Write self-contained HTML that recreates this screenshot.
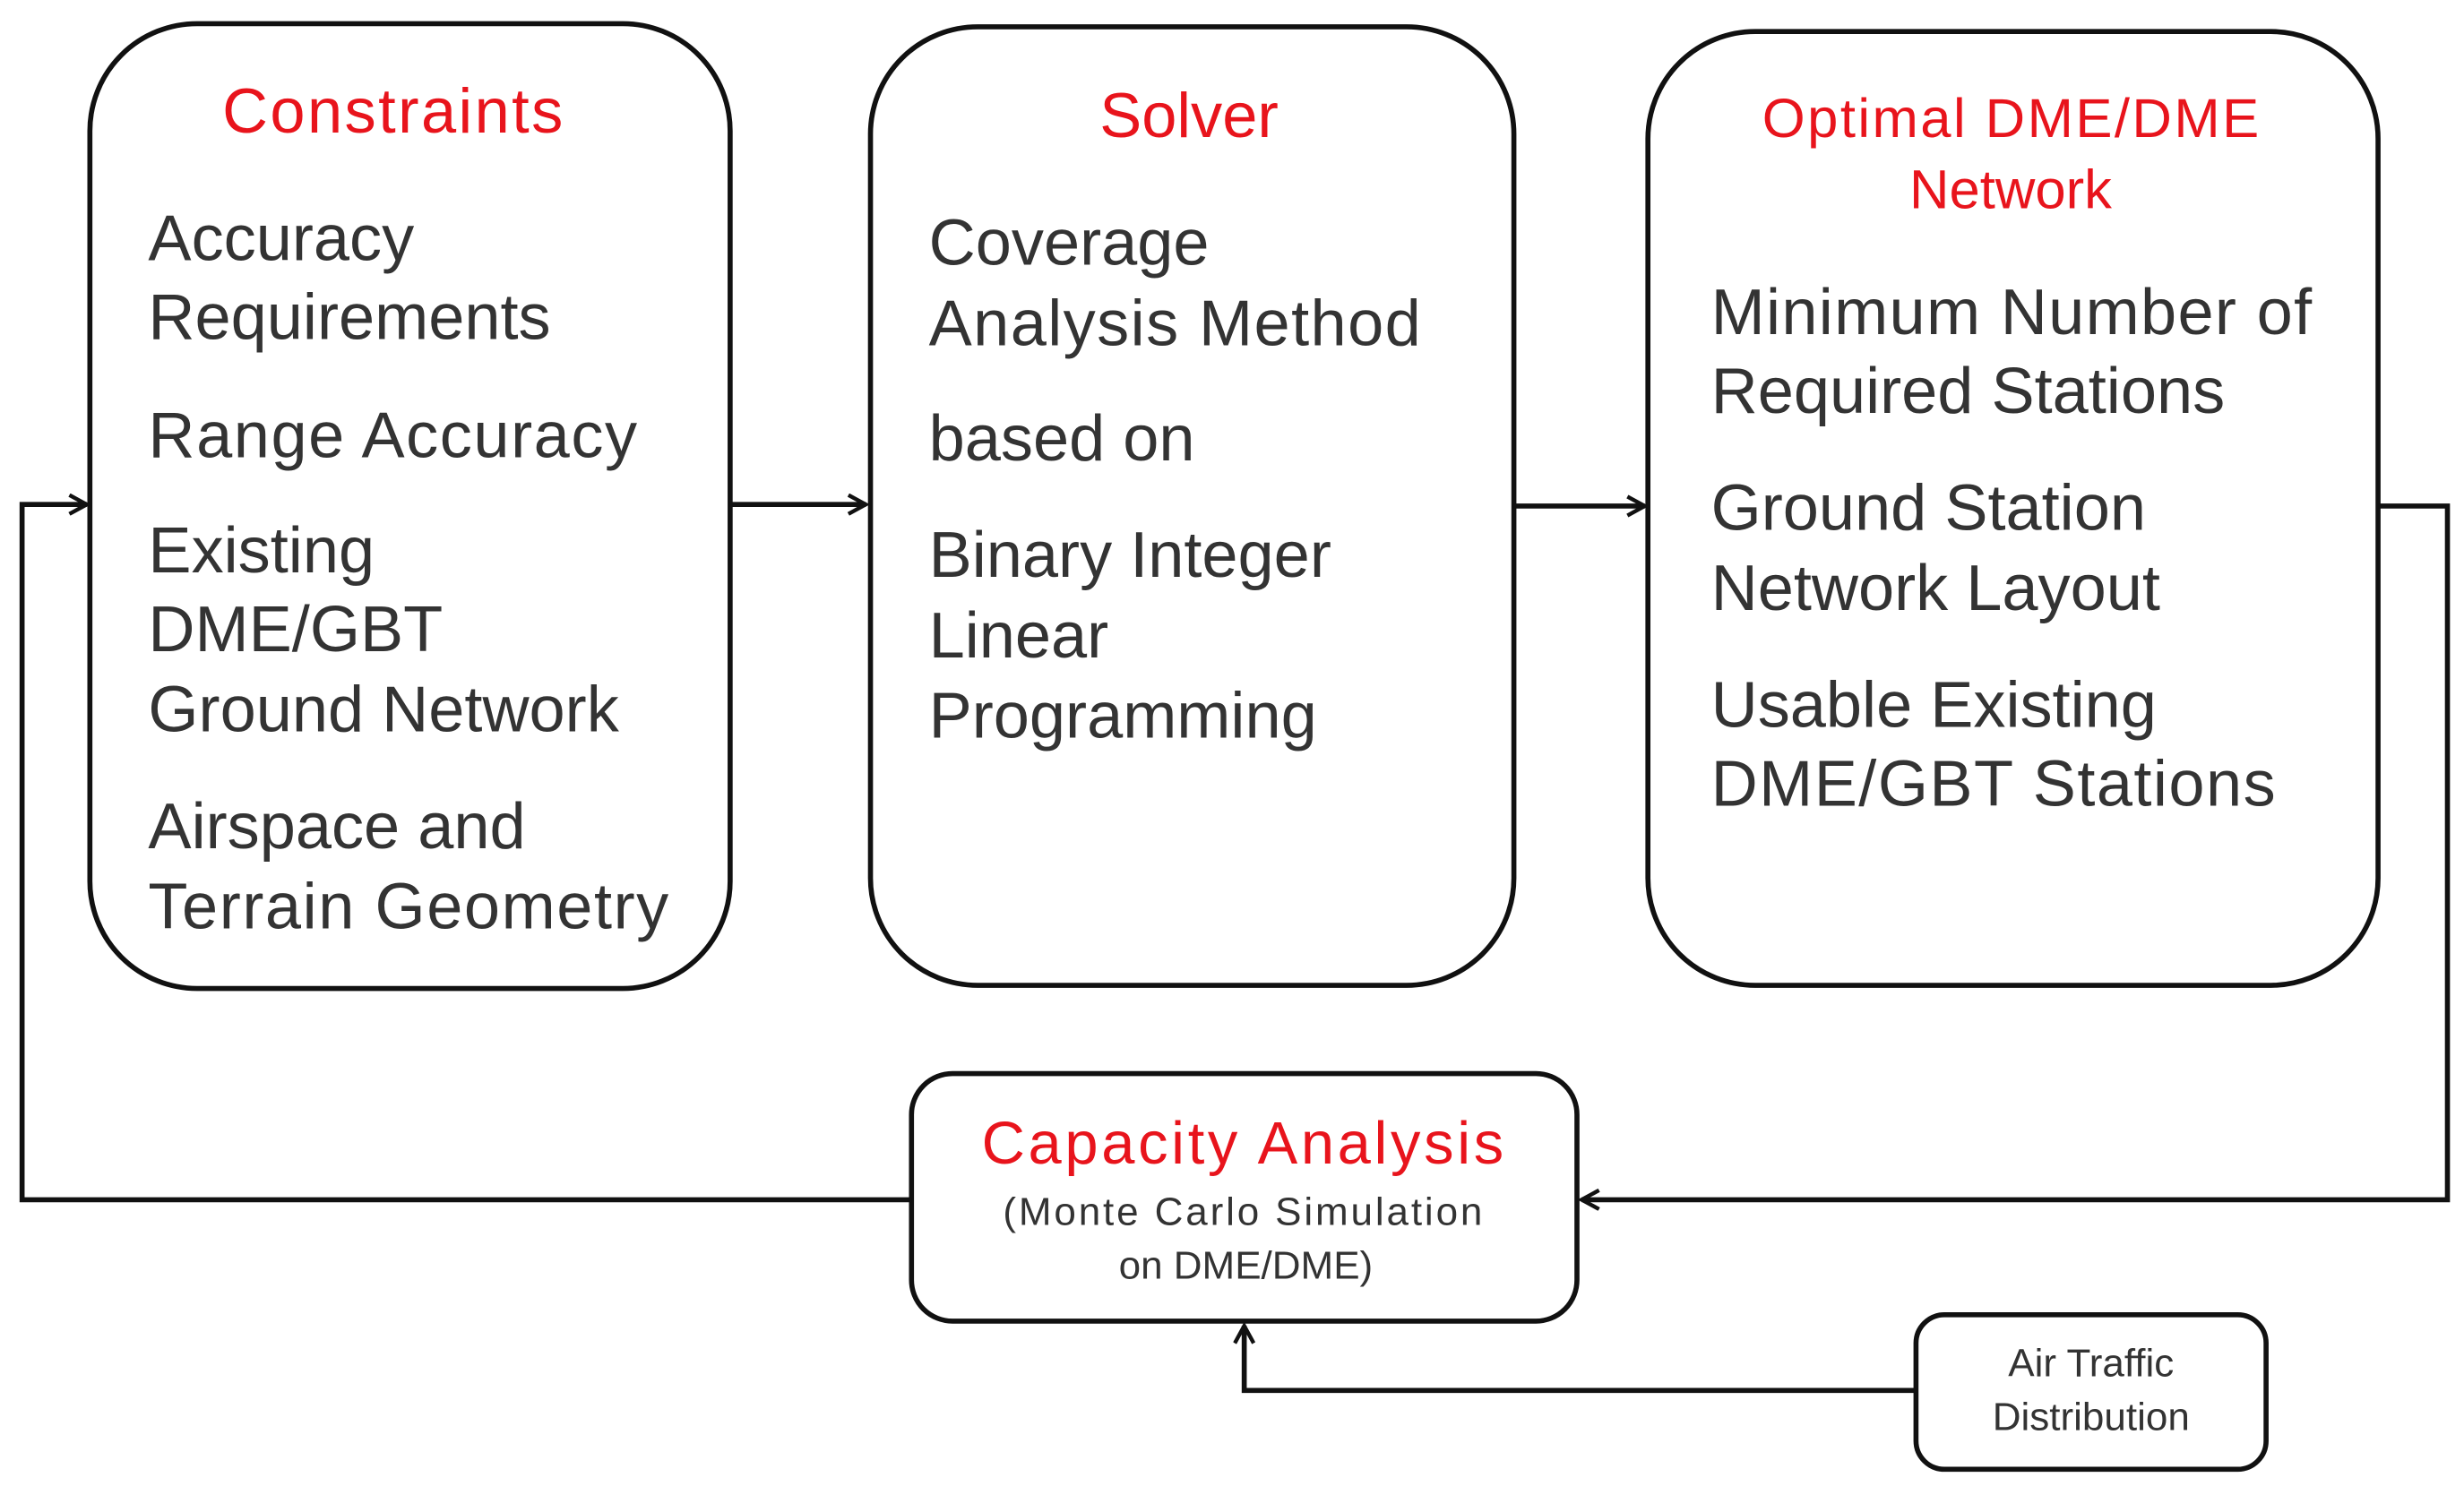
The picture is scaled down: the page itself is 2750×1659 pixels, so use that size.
<!DOCTYPE html>
<html><head><meta charset="utf-8"><style>html,body{margin:0;padding:0;background:#fff}svg{display:block}</style></head>
<body>
<svg width="2750" height="1659" viewBox="0 0 1562.5 942.6" preserveAspectRatio="none" xmlns="http://www.w3.org/2000/svg" font-family="Liberation Sans, Arial, sans-serif">
<defs><marker id="a" markerWidth="14" markerHeight="14" refX="12" refY="7" orient="auto" markerUnits="userSpaceOnUse"><path d="M1,1 L12,7 L1,13" fill="none" stroke="#111" stroke-width="2.5"/></marker></defs>
<g fill="none" stroke="#111" stroke-width="3.2">
<rect x="57" y="15" width="406" height="612" rx="68"/>
<rect x="552" y="17" width="408" height="608" rx="68"/>
<rect x="1045" y="20" width="463" height="605" rx="68"/>
<rect x="578" y="681" width="422" height="157" rx="26"/>
<rect x="1215" y="834" width="222" height="98" rx="18"/>
<path d="M463 320 H549" marker-end="url(#a)"/>
<path d="M960 321 H1043" marker-end="url(#a)"/>
<path d="M1508 321 H1552 V761 H1003" marker-end="url(#a)"/>
<path d="M578 761 H14 V320 H55" marker-end="url(#a)"/>
<path d="M1215 882 H789 V841" marker-end="url(#a)"/>
</g>
<g fill="#e8141c">
<text x="249" y="84" font-size="40" text-anchor="middle" textLength="216">Constraints</text>
<text x="754" y="87" font-size="40" text-anchor="middle">Solver</text>
<text x="1275" y="87" font-size="35" text-anchor="middle" textLength="315">Optimal DME/DME</text>
<text x="1275" y="132" font-size="35" text-anchor="middle">Network</text>
<text x="788" y="738" font-size="38" text-anchor="middle" textLength="331">Capacity Analysis</text>
</g>
<g fill="#333" font-size="41">
<text x="94" y="165">Accuracy</text>
<text x="94" y="215">Requirements</text>
<text x="94" y="290" textLength="310">Range Accuracy</text>
<text x="94" y="363">Existing</text>
<text x="94" y="413">DME/GBT</text>
<text x="94" y="464">Ground Network</text>
<text x="94" y="538">Airspace and</text>
<text x="94" y="589" textLength="330">Terrain Geometry</text>
<text x="589" y="168">Coverage</text>
<text x="589" y="219" textLength="312">Analysis Method</text>
<text x="589" y="292">based on</text>
<text x="589" y="366">Binary Integer</text>
<text x="589" y="417">Linear</text>
<text x="589" y="468">Programming</text>
<text x="1085" y="212" textLength="381">Minimum Number of</text>
<text x="1085" y="262">Required Stations</text>
<text x="1085" y="336">Ground Station</text>
<text x="1085" y="387">Network Layout</text>
<text x="1085" y="461">Usable Existing</text>
<text x="1085" y="511" textLength="358">DME/GBT Stations</text>
</g>
<g fill="#333" font-size="25" text-anchor="middle">
<text x="788" y="777" textLength="304">(Monte Carlo Simulation</text>
<text x="790" y="811">on DME/DME)</text>
<text x="1326" y="873">Air Traffic</text>
<text x="1326" y="907">Distribution</text>
</g>
</svg>
</body></html>
